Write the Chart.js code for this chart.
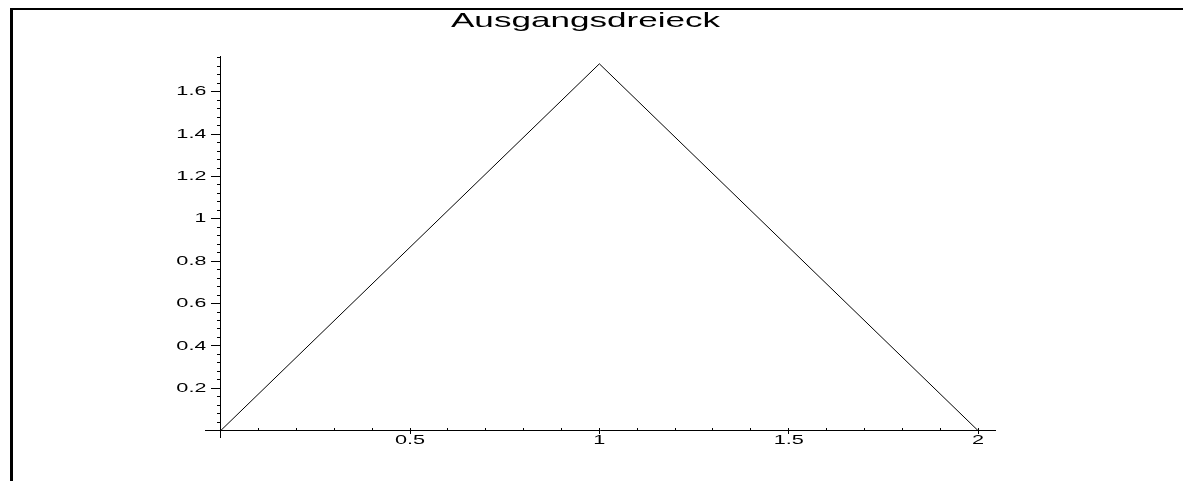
<!DOCTYPE html>
<html>
<head>
<meta charset="utf-8">
<title>Ausgangsdreieck</title>
<script src="https://cdn.jsdelivr.net/npm/chart.js@4/dist/chart.umd.min.js"></script>
<style>
  html, body { margin: 0; padding: 0; background: #fff; overflow: hidden; }
  canvas { display: block; }
</style>
</head>
<body>
<canvas id="plot" width="1183" height="481"></canvas>
<script>
// Corners of the starting equilateral triangle (side length 2)
const cornerX = [0, 1, 2];
const cornerY = [0, 1.732, 0];

// Labelled ticks
const xTickValues = [0.5, 1, 1.5, 2];
const xTickLabels = ['0.5', '1', '1.5', '2'];
const yTickValues = [0.2, 0.4, 0.6, 0.8, 1, 1.2, 1.4, 1.6];
const yTickLabels = ['0.2', '0.4', '0.6', '0.8', '1', '1.2', '1.4', '1.6'];

const titleText = 'Ausgangsdreieck';

// Unlabelled minor tick marks
function steps(from, to, step) {
  const out = [];
  for (let i = 0; from + i * step <= to + 1e-9; i++) out.push(+(from + i * step).toFixed(4));
  return out;
}
const xMinorTicks = steps(0, 2, 0.1);
const yMinorTicks = steps(0, 1.76, 0.04);

const X_RANGE = { min: -0.04, max: 2.046 };
const Y_RANGE = { min: -0.03, max: 1.768 };
const FONT = "'Liberation Sans', Arial, Helvetica, sans-serif";
const TEXT_STRETCH = 1.67; // glyphs are drawn horizontally widened

const canvas = document.getElementById('plot');
const ctx = canvas.getContext('2d');

// Draw and measure every text run horizontally widened
(function widenText(c) {
  const fill = c.fillText.bind(c);
  const measure = c.measureText.bind(c);
  c.fillText = function (text, x, y, maxWidth) {
    c.save();
    c.translate(x, y);
    c.scale(TEXT_STRETCH, 1);
    if (maxWidth === undefined) fill(text, 0, 0);
    else fill(text, 0, 0, maxWidth / TEXT_STRETCH);
    c.restore();
  };
  c.measureText = function (text) {
    const m = measure(text);
    return {
      width: m.width * TEXT_STRETCH,
      actualBoundingBoxAscent: m.actualBoundingBoxAscent,
      actualBoundingBoxDescent: m.actualBoundingBoxDescent,
      actualBoundingBoxLeft: m.actualBoundingBoxLeft * TEXT_STRETCH,
      actualBoundingBoxRight: m.actualBoundingBoxRight * TEXT_STRETCH
    };
  };
})(ctx);

function fixedTicks(values) {
  return (axis) => { axis.ticks = values.map(v => ({ value: v })); };
}

// Sheet frame and the centred heading
const sheetPlugin = {
  id: 'sheet',
  beforeDraw(chart) {
    const c = chart.ctx;
    c.save();
    c.fillStyle = '#ffffff';
    c.fillRect(0, 0, chart.width, chart.height);
    c.fillStyle = '#000000';
    c.fillRect(10, 8, chart.width - 10, 2);
    c.fillRect(10, 8, 3, chart.height - 8);
    c.restore();
  },
  afterDraw(chart) {
    const c = chart.ctx;
    c.save();
    c.font = '21px ' + FONT;
    c.fillStyle = '#000000';
    c.textAlign = 'center';
    c.textBaseline = 'alphabetic';
    c.fillText(titleText, 585.5, 27);
    c.restore();
  }
};

const tickMarks = (len) => ({
  display: true, drawOnChartArea: false, drawTicks: true,
  tickLength: len, tickColor: '#000000', tickWidth: 1
});

new Chart(ctx, {
  type: 'line',
  data: {
    datasets: [{
      data: cornerX.map((x, i) => ({ x, y: cornerY[i] })),
      borderColor: '#000000',
      borderWidth: 1,
      pointRadius: 0,
      tension: 0,
      fill: false
    }]
  },
  options: {
    responsive: false,
    animation: false,
    events: [],
    layout: { padding: { left: 0, top: 56.2, right: 187.5, bottom: 44 } },
    plugins: { legend: { display: false }, title: { display: false }, tooltip: { enabled: false } },
    scales: {
      x: {
        type: 'linear', axis: 'x', position: { y: 0 }, ...X_RANGE,
        afterBuildTicks: fixedTicks(xTickValues),
        grid: tickMarks(3),
        border: { display: true, color: '#000000', width: 1 },
        ticks: {
          autoSkip: false, maxRotation: 0, padding: -1, color: '#000000',
          font: { family: FONT, size: 13 },
          callback: (v, i) => xTickLabels[i]
        }
      },
      xMinor: {
        type: 'linear', axis: 'x', position: { y: 0 }, ...X_RANGE,
        afterBuildTicks: fixedTicks(xMinorTicks),
        grid: tickMarks(-3),
        border: { display: false },
        ticks: { display: false }
      },
      y: {
        type: 'linear', axis: 'y', position: 'left', ...Y_RANGE,
        afterBuildTicks: fixedTicks(yTickValues),
        afterFit: (s) => { s.width = 205.5; },
        grid: { display: false, drawTicks: false },
        border: { display: false },
        ticks: {
          autoSkip: false, padding: -1, color: '#000000',
          font: { family: FONT, size: 13 },
          callback: (v, i) => yTickLabels[i]
        }
      },
      yAxis: {
        type: 'linear', axis: 'y', position: { x: 0 }, ...Y_RANGE,
        afterBuildTicks: fixedTicks(yTickValues),
        grid: tickMarks(9),
        border: { display: true, color: '#000000', width: 1 },
        ticks: { display: false }
      },
      yMinor: {
        type: 'linear', axis: 'y', position: { x: 0 }, ...Y_RANGE,
        afterBuildTicks: fixedTicks(yMinorTicks),
        grid: tickMarks(4),
        border: { display: false },
        ticks: { display: false }
      }
    }
  },
  plugins: [sheetPlugin]
});
</script>
</body>
</html>
